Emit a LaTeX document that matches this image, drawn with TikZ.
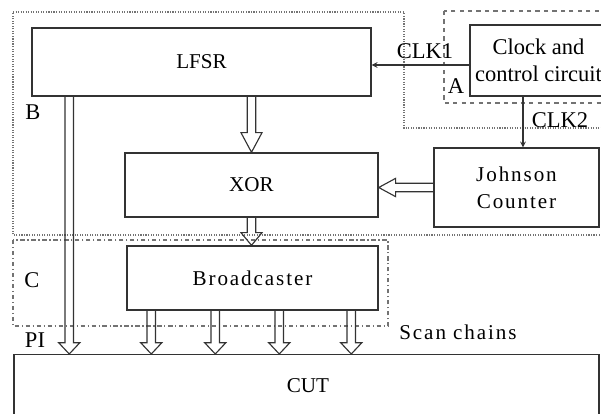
\documentclass[tikz,border=0pt]{standalone}
\usepackage{fontspec}
\setmainfont{Liberation Serif}
\newfontfamily\widefont[LetterSpace=9]{Liberation Serif}
\usetikzlibrary{
		calc
	}
\tikzset{
		>=stealth,
		block/.style={draw=black!80, line width=1pt, inner sep=0pt, align=center,
			font=\fontsize{15}{18}\selectfont},
		tag/.style={inner sep=0pt, font=\fontsize{16}{19}\selectfont},
		wide/.style={font=\widefont\fontsize{15}{19}\selectfont},
		fatarrow/.style={draw=black!80, line width=0.8pt, line join=miter},
		region/.style={draw=black!55, line width=0.8pt},
		sig/.style={draw=black!80, line width=0.8pt, ->}
	}
\newcommand{\fatdown}[3]{%
	\draw[fatarrow] let \p1=#1, \p2=(#2.north) in
		(\x1-3pt,\y1) -- (\x1-3pt,\y2+#3) -- (\x1-7.5pt,\y2+#3) -- (\x1,\y2)
		-- (\x1+7.5pt,\y2+#3) -- (\x1+3pt,\y2+#3) -- (\x1+3pt,\y1);
}
\newcommand{\fatleft}[3]{%
	\draw[fatarrow] let \p1=#1, \p2=(#2.east) in
		(\x1,\y1+3pt) -- (\x2+#3,\y1+3pt) -- (\x2+#3,\y1+6.5pt) -- (\x2,\y1)
		-- (\x2+#3,\y1-6.5pt) -- (\x2+#3,\y1-3pt) -- (\x1,\y1-3pt);
}

\begin{document}
\begin{tikzpicture}[x=0.025cm, y=-0.025cm]
          \useasboundingbox (0,0) rectangle (601,414);
          \clip (0,0) rectangle (601,414);

          % regions A, B, C
          \draw[region, densely dotted] (13,12) -- (404,12) -- (404,128) -- (615,128)
               -- (615,235) -- (13,235) -- cycle;
          \draw[region, dashed] (444,11) rectangle (615,103);
          \draw[region, dash dot] (13,240) rectangle (388,326);

          % blocks
          \node[block, minimum width=8.475cm, minimum height=1.7cm] (lfsr) at (201.5,62) {LFSR};
          \node[block, font=\fontsize{16}{19}\selectfont, minimum width=3.425cm,
               minimum height=1.775cm] (clk) at (538.5,60.5) {Clock and\\control circuit};
          \node[block, minimum width=6.325cm, minimum height=1.6cm] (xor) at (251.5,185) {XOR};
          \node[block, wide, minimum width=4.125cm, minimum height=1.975cm] (john) at (516.5,187.5)
               {Johnson\\Counter};
          \node[block, wide, minimum width=6.275cm, minimum height=1.6cm] (bcast) at (252.5,278)
               {Broadcaster};
          \node[block, minimum width=14.625cm, minimum height=2.4cm, anchor=north] (cut) at (306.5,354) {};
          \node[block, draw=none] (cutlbl) at (308,386) {CUT};

          % labels
          \node[tag] (la) at (456,86) {A};
          \node[tag] (lb) at (33,112) {B};
          \node[tag] (lc) at (32,280) {C};
          \node[tag] (pi) at (35,340) {PI};
          \node[tag] (clka) at (425,51) {CLK1};
          \node[tag] (clkb) at (560,120) {CLK2};
          \node[wide] (scan) at (458,332) {Scan chains};

          % clocks
          \coordinate (c1) at ($(clk.west)+(0,4.5)$);
          \draw[sig] (c1) -- (c1 -| lfsr.east);
          \coordinate (c2) at ($(john.north)+(6.5,0)$);
          \draw[sig] (c2 |- clk.south) -- (c2);

          % data paths
          \fatdown{(lfsr.south -| xor.north)}{xor}{14pt}
          \fatdown{(xor.south)}{bcast}{9pt}
          \fatleft{(john.west)}{xor}{12pt}
          \fatdown{($(lfsr.south west)+(38,0)$)}{cut}{8pt}
          \foreach \dx in {25,89,153,225}{
               \fatdown{($(bcast.south west)+(\dx,0)$)}{cut}{8pt}
          }

\end{tikzpicture}
\end{document}
